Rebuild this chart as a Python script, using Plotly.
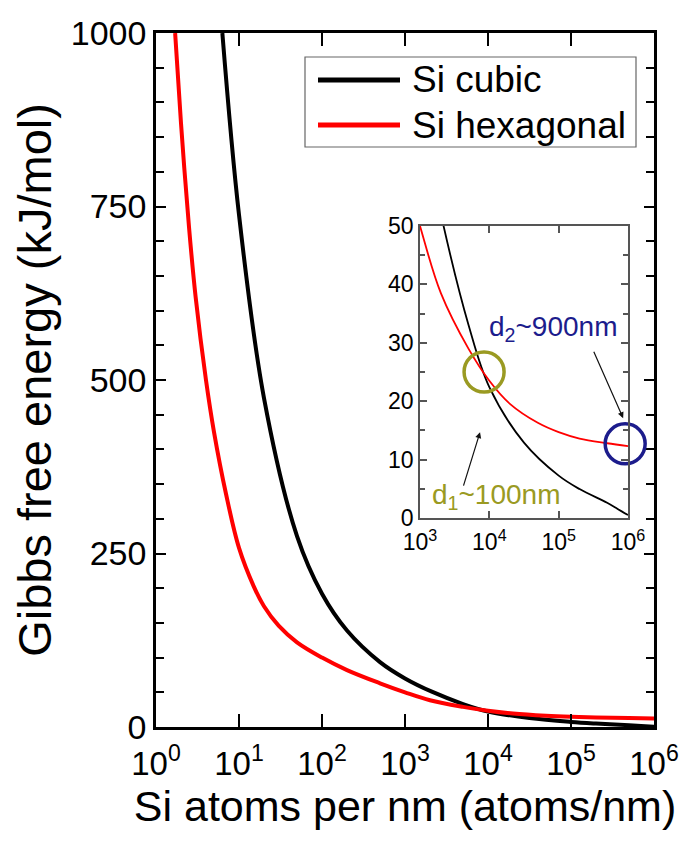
import plotly.graph_objects as go

# ---- data ----
cubic_x = [6.3, 10, 20, 50, 100, 200, 500, 1000, 2140, 5000,
           1e4, 3.16e4, 1e5, 2e5, 5e5, 7e5, 1e6]
cubic_y = [1000, 738, 474, 275, 192, 139, 93.5, 70, 50.5, 33.1,
           22.4, 12.9, 7.25, 4.95, 2.6, 1.6, 0.5]

hex_x = [1.7, 2, 2.5, 3, 4, 5, 7, 10, 15, 20, 30, 50, 100, 200, 500, 1000,
         2000, 5000, 1e4, 2e4, 5e4, 1e5, 2e5, 5e5, 1e6]
hex_y = [1000, 870, 720, 620, 500, 425, 335, 258, 203, 174, 146, 122, 100, 82,
         63, 50, 38.5, 29, 23.5, 19.5, 16.3, 14.7, 13.6, 12.8, 12.3]

series_names = ["Si cubic", "Si hexagonal"]
series_colors = ["#000000", "#ff0000"]

main_xticks = [1, 10, 100, 1000, 1e4, 1e5, 1e6]
main_xticktext = ["10<sup>%d</sup>" % i for i in range(7)]
main_yticks = [0, 250, 500, 750, 1000]
inset_xticks = [1e3, 1e4, 1e5, 1e6]
inset_xticktext = ["10<sup>%d</sup>" % i for i in range(3, 7)]
inset_yticks = [0, 10, 20, 30, 40, 50]

# crossing markers (x, G)
marker_x = [8400, 9.1e5]
marker_y = [25, 12.7]
d1_label = "d<sub>1</sub>~100nm"
d2_label = "d<sub>2</sub>~900nm"

FONT = "Liberation Sans, Arial, sans-serif"
OLIVE = "#9a9a22"
NAVY = "#1c1c8c"

fig = go.Figure()
for xs, ys, nm, col in [(cubic_x, cubic_y, series_names[0], series_colors[0]),
                        (hex_x, hex_y, series_names[1], series_colors[1])]:
    fig.add_trace(go.Scatter(x=xs, y=ys, mode="lines", name=nm,
                             line=dict(color=col, width=4, shape="spline", smoothing=1.0),
                             xaxis="x", yaxis="y", showlegend=False))
for xs, ys, nm, col in [(cubic_x, cubic_y, series_names[0], series_colors[0]),
                        (hex_x, hex_y, series_names[1], series_colors[1])]:
    fig.add_trace(go.Scatter(x=xs, y=ys, mode="lines", name=nm,
                             line=dict(color=col, width=1.8, shape="spline", smoothing=1.0),
                             xaxis="x2", yaxis="y2", showlegend=False))
# circles marking the crossing / limit points
fig.add_trace(go.Scatter(x=marker_x, y=marker_y, mode="markers", xaxis="x2", yaxis="y2",
                         showlegend=False, cliponaxis=False, hoverinfo="skip",
                         marker=dict(symbol="circle-open", size=40,
                                     color=[OLIVE, NAVY],
                                     line=dict(color=[OLIVE, NAVY], width=3.5))))

OFF = 8  # page body margin
W, H = 688 - OFF, 859 - OFF
PL, PR, PT, PB = 156, 654, 33, 727  # plot area on screen
L, T = PL - OFF, PT - OFF
R, B = W - (PR - OFF), H - (PB - OFF)
pw, ph = PR - PL, PB - PT

def px2domx(px):
    return (px - PL) / pw

def px2domy(py):
    return (PB - py) / ph

fig.update_layout(
    width=W, height=H,
    margin=dict(l=L, r=R, t=T, b=B),
    paper_bgcolor="white", plot_bgcolor="white",
    font=dict(family=FONT, color="black"),
    xaxis=dict(type="log", range=[0, 6], tickvals=main_xticks, ticktext=main_xticktext,
               ticks="inside", ticklen=13, tickwidth=2, tickcolor="black",
               showline=True, linecolor="black", linewidth=2.5, mirror="allticks",
               showgrid=False, zeroline=False, tickfont=dict(size=33), automargin=False,
               ticklabelstandoff=6,
               title=dict(text="Si atoms per nm (atoms/nm)", font=dict(size=43), standoff=10)),
    yaxis=dict(range=[0, 1000], tickvals=main_yticks,
               ticks="inside", ticklen=10, tickwidth=2, tickcolor="black",
               minor=dict(dtick=50, ticks="inside", ticklen=8, tickwidth=2, tickcolor="black"),
               showline=True, linecolor="black", linewidth=2.5, mirror="allticks",
               showgrid=False, zeroline=False, tickfont=dict(size=34), automargin=False,
               title=dict(text="Gibbs free energy (kJ/mol)", font=dict(size=47), standoff=6)),
    xaxis2=dict(type="log", range=[3, 6], domain=[px2domx(420), px2domx(628)], anchor="y2",
                tickvals=inset_xticks, ticktext=inset_xticktext,
                ticks="inside", ticklen=7, tickwidth=1.5, tickcolor="#555",
                showline=True, linecolor="#555", linewidth=1.5, mirror="allticks",
                showgrid=False, zeroline=False, tickfont=dict(size=23), ticklabelstandoff=3),
    yaxis2=dict(range=[0, 50], domain=[px2domy(518), px2domy(226)], anchor="x2",
                tickvals=inset_yticks,
                ticks="inside", ticklen=7, tickwidth=1.5, tickcolor="#555",
                minor=dict(dtick=5, ticks="inside", ticklen=5, tickwidth=1.5, tickcolor="#555"),
                showline=True, linecolor="#555", linewidth=1.5, mirror="allticks",
                showgrid=False, zeroline=False, tickfont=dict(size=23)),
)

# arrows
fig.add_annotation(xref="x2", yref="y2", x=3.866, y=14.7, ax=-17, ay=55, text="",
                   showarrow=True, arrowhead=2, arrowsize=1, arrowwidth=1.2, arrowcolor="#111")
fig.add_annotation(xref="x2", yref="y2", x=5.93, y=17.1, ax=-30, ay=-68, text="",
                   showarrow=True, arrowhead=2, arrowsize=1, arrowwidth=1.2, arrowcolor="#111")
# labels
fig.add_annotation(xref="x2", yref="y2", x=4.10, y=3.6, text=d1_label, showarrow=False,
                   font=dict(size=28, color=OLIVE, family=FONT))
fig.add_annotation(xref="x2", yref="y2", x=4.92, y=32.5, text=d2_label, showarrow=False,
                   font=dict(size=28, color=NAVY, family=FONT))

# legend box (drawn)
fig.add_shape(type="rect", xref="x domain", yref="y domain",
              x0=px2domx(305), x1=px2domx(636), y0=px2domy(147), y1=px2domy(57),
              line=dict(color="#666", width=1.2), fillcolor="white")
for i, (nm, col) in enumerate(zip(series_names, series_colors)):
    yy = px2domy(80 + 45 * i)
    fig.add_shape(type="line", xref="x domain", yref="y domain",
                  x0=px2domx(318), x1=px2domx(400), y0=yy, y1=yy,
                  line=dict(color=col, width=5))
    fig.add_annotation(xref="x domain", yref="y domain", x=px2domx(410), y=yy,
                       xanchor="left", yanchor="middle", text=nm, showarrow=False,
                       font=dict(size=37, color="black", family=FONT))

fig.write_html("out.html")
